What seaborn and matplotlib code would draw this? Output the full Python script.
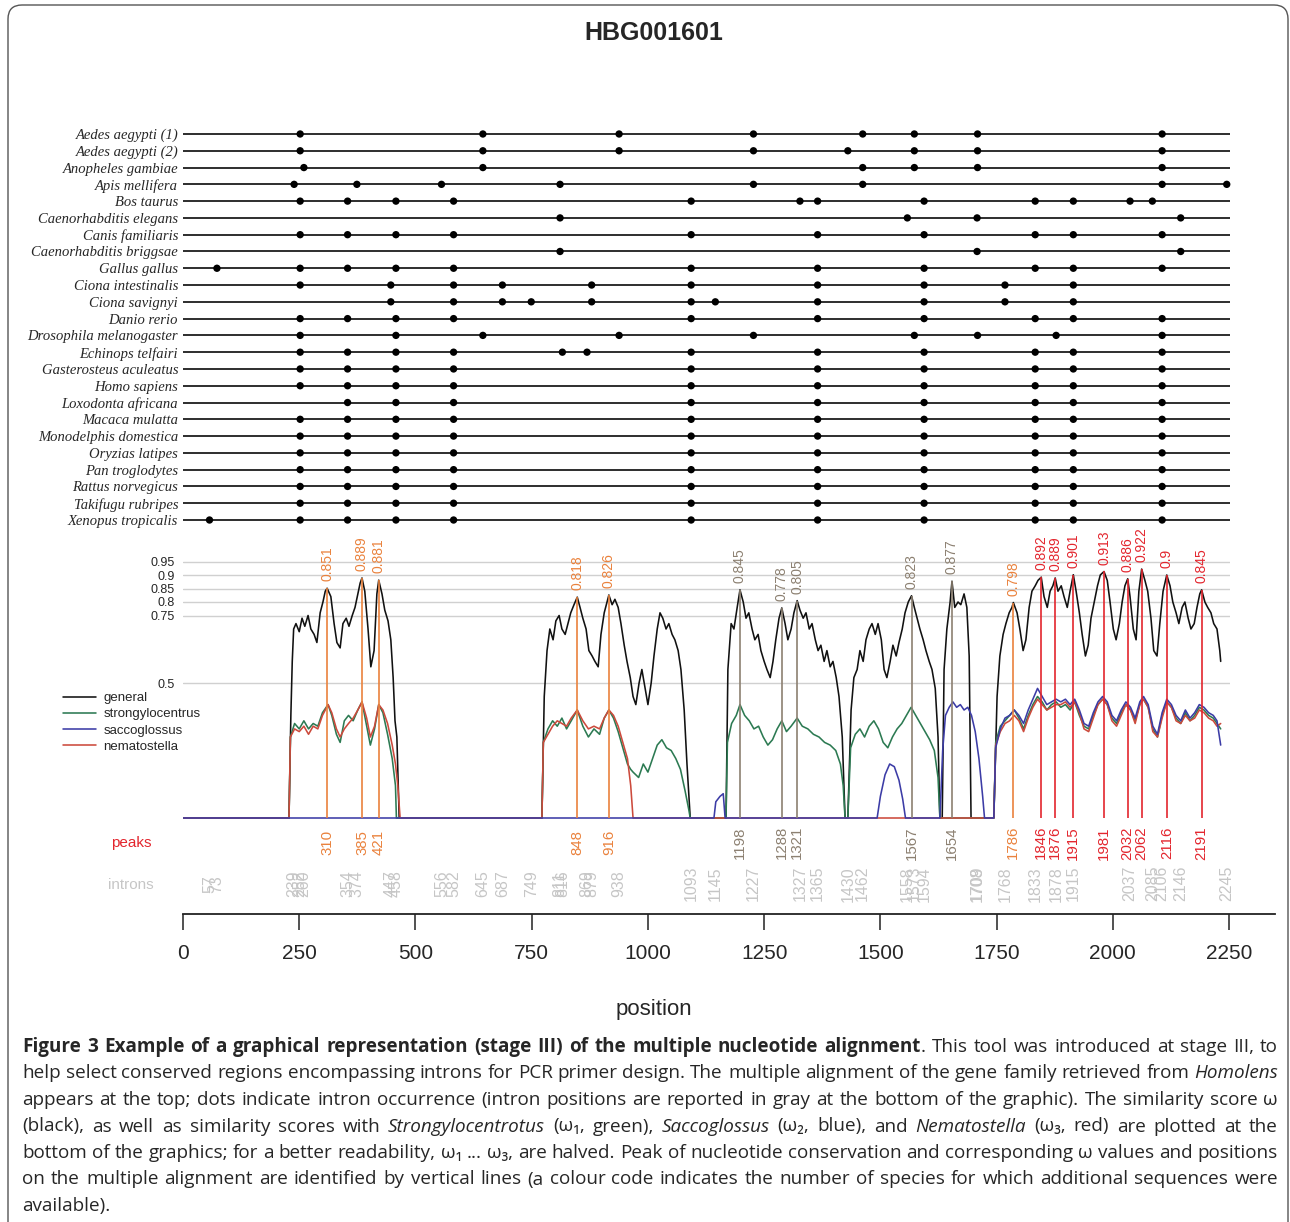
import numpy as np
import pandas as pd
import seaborn as sns
import matplotlib.pyplot as plt
from matplotlib import font_manager
from matplotlib.patches import FancyBboxPatch
from matplotlib.transforms import IdentityTransform

W, H = 1290, 1222

## alignment panel data
species = ['Aedes aegypti (1)', 'Aedes aegypti (2)', 'Anopheles gambiae', 'Apis mellifera',
           'Bos taurus', 'Caenorhabditis elegans', 'Canis familiaris', 'Caenorhabditis briggsae',
           'Gallus gallus', 'Ciona intestinalis', 'Ciona savignyi', 'Danio rerio',
           'Drosophila melanogaster', 'Echinops telfairi', 'Gasterosteus aculeatus', 'Homo sapiens',
           'Loxodonta africana', 'Macaca mulatta', 'Monodelphis domestica', 'Oryzias latipes',
           'Pan troglodytes', 'Rattus norvegicus', 'Takifugu rubripes', 'Xenopus tropicalis']

# intron sites shared by most vertebrates
vert = [252, 354, 458, 582, 1093, 1365, 1594, 1833, 1915, 2106]
sites = [
    [252, 645, 938, 1227, 1462, 1573, 1709, 2106],
    [252, 645, 938, 1227, 1430, 1573, 1709, 2106],
    [260, 645, 1462, 1573, 1709, 2106],
    [239, 374, 556, 811, 1227, 1462, 2106, 2245],
    [252, 354, 458, 582, 1093, 1327, 1365, 1594, 1833, 1915, 2037, 2085],
    [811, 1558, 1708, 2146],
    vert,
    [811, 1708, 2146],
    [73] + vert,
    [252, 447, 582, 687, 879, 1093, 1365, 1594, 1768, 1915],
    [447, 582, 687, 749, 879, 1093, 1145, 1365, 1594, 1768, 1915],
    vert,
    [252, 458, 645, 938, 1227, 1573, 1709, 1878, 2106],
    [252, 354, 458, 582, 816, 869, 1093, 1365, 1594, 1833, 1915, 2106],
    vert,
    vert,
    vert[1:],
    vert, vert, vert, vert, vert, vert,
    [57] + vert,
]
aln_length = 2252

## similarity curves (omega values along the alignment)
general_pos = [0, 228, 230, 232, 235, 238, 243, 250, 256, 262, 269, 275, 282, 288, 295, 301, 306, 310, 318, 325,
               331, 338, 344, 351, 357, 364, 370, 376, 381, 385, 391, 398, 404, 411, 417, 421, 428, 434, 441, 447,
               452, 456, 460, 465,
               772, 777, 783, 789, 796, 802, 809, 815, 822, 828, 834, 841, 848, 854, 860, 867, 873, 880, 886, 893,
               899, 906, 912, 916, 923, 929, 936, 942, 949, 955, 962, 968, 974, 981, 987, 994, 1000, 1007, 1013, 1020,
               1026, 1032, 1039, 1045, 1052, 1058, 1065, 1071, 1078, 1084, 1091,
               1168, 1172, 1179, 1185, 1192, 1198, 1205, 1211, 1217, 1224, 1230, 1237, 1243, 1250, 1256, 1263, 1269,
               1275, 1282, 1288, 1295, 1301, 1308, 1314, 1321, 1327, 1334, 1340, 1347, 1353, 1360, 1366, 1372, 1379,
               1385, 1392, 1398, 1405, 1411, 1418, 1424,
               1430, 1437, 1443, 1450, 1456, 1463, 1469, 1476, 1482, 1489, 1495, 1502, 1508, 1514, 1521, 1527, 1534,
               1540, 1547, 1553, 1560, 1567, 1573, 1579, 1585, 1592, 1598, 1605, 1611, 1618, 1624, 1628,
               1633, 1637, 1643, 1650, 1654, 1660, 1667, 1673, 1680, 1686, 1691, 1695,
               1744, 1751, 1757, 1764, 1770, 1777, 1783, 1786, 1794, 1800, 1807, 1813, 1820, 1826, 1833, 1839, 1846,
               1852, 1859, 1865, 1871, 1876, 1882, 1889, 1895, 1902, 1908, 1915, 1921, 1928, 1934, 1941, 1947, 1953,
               1960, 1967, 1973, 1981, 1988, 1994, 2001, 2007, 2014, 2020, 2026, 2032, 2037, 2044, 2050, 2056, 2062,
               2069, 2075, 2082, 2088, 2095, 2101, 2108, 2116, 2123, 2129, 2136, 2142, 2149, 2155, 2162, 2168, 2175,
               2181, 2187, 2191, 2198, 2204, 2211, 2217, 2224, 2230, 2232]
general_val = [0, 0, 0.20, 0.38, 0.58, 0.70, 0.72, 0.69, 0.74, 0.71, 0.75, 0.70, 0.68, 0.65, 0.76, 0.80, 0.84, 0.851,
               0.82, 0.72, 0.65, 0.63, 0.72, 0.74, 0.71, 0.75, 0.78, 0.83, 0.87, 0.889, 0.84, 0.70, 0.56, 0.62, 0.83,
               0.881, 0.83, 0.77, 0.73, 0.66, 0.52, 0.36, 0.30, 0,
               0, 0.45, 0.62, 0.70, 0.66, 0.73, 0.75, 0.70, 0.68, 0.72, 0.76, 0.79, 0.818, 0.78, 0.74, 0.70, 0.62,
               0.60, 0.58, 0.56, 0.68, 0.76, 0.80, 0.826, 0.79, 0.81, 0.78, 0.72, 0.64, 0.58, 0.52, 0.45, 0.42, 0.50,
               0.55, 0.48, 0.42, 0.50, 0.60, 0.70, 0.76, 0.74, 0.70, 0.72, 0.68, 0.66, 0.62, 0.55, 0.40, 0.20, 0,
               0, 0.55, 0.72, 0.70, 0.78, 0.845, 0.80, 0.74, 0.76, 0.70, 0.66, 0.68, 0.62, 0.58, 0.55, 0.52, 0.58,
               0.66, 0.74, 0.778, 0.72, 0.66, 0.70, 0.76, 0.805, 0.77, 0.74, 0.76, 0.70, 0.72, 0.66, 0.62, 0.64, 0.58,
               0.62, 0.56, 0.58, 0.52, 0.45, 0.30, 0,
               0, 0.40, 0.52, 0.55, 0.62, 0.58, 0.66, 0.70, 0.72, 0.68, 0.72, 0.66, 0.55, 0.52, 0.58, 0.64, 0.60,
               0.65, 0.70, 0.76, 0.80, 0.823, 0.78, 0.74, 0.70, 0.66, 0.62, 0.58, 0.55, 0.48, 0.30, 0,
               0, 0.55, 0.70, 0.80, 0.877, 0.78, 0.80, 0.79, 0.83, 0.78, 0.60, 0,
               0, 0.45, 0.60, 0.68, 0.72, 0.76, 0.78, 0.798, 0.76, 0.70, 0.62, 0.66, 0.78, 0.84, 0.86, 0.88, 0.892,
               0.82, 0.78, 0.84, 0.86, 0.889, 0.84, 0.86, 0.82, 0.78, 0.84, 0.901, 0.84, 0.76, 0.68, 0.60, 0.64, 0.74,
               0.80, 0.86, 0.90, 0.913, 0.88, 0.80, 0.70, 0.66, 0.72, 0.80, 0.86, 0.886, 0.82, 0.70, 0.66, 0.84,
               0.922, 0.88, 0.84, 0.74, 0.62, 0.60, 0.72, 0.84, 0.90, 0.86, 0.80, 0.76, 0.72, 0.78, 0.80, 0.74, 0.70,
               0.72, 0.78, 0.83, 0.845, 0.80, 0.78, 0.76, 0.72, 0.70, 0.62, 0.58]

# last block, where all three additional species are aligned
tail_pos = [1744, 1748, 1758, 1768, 1778, 1788, 1798, 1808, 1818, 1828, 1838, 1848, 1858, 1868, 1878, 1888, 1898,
            1908, 1918, 1928, 1938, 1948, 1958, 1968, 1978, 1988, 1998, 2008, 2018, 2028, 2038, 2048, 2058, 2066,
            2076, 2086, 2096, 2106, 2116, 2126, 2136, 2146, 2156, 2166, 2176, 2186, 2196, 2206, 2216, 2224, 2232]
strongylo_tail = [0, 0.28, 0.34, 0.36, 0.38, 0.40, 0.37, 0.33, 0.38, 0.42, 0.45, 0.43, 0.40, 0.42, 0.43, 0.41, 0.42,
                  0.40, 0.43, 0.38, 0.34, 0.33, 0.38, 0.42, 0.44, 0.42, 0.37, 0.35, 0.39, 0.42, 0.40, 0.36, 0.42,
                  0.44, 0.41, 0.33, 0.30, 0.38, 0.43, 0.41, 0.37, 0.35, 0.39, 0.36, 0.38, 0.41, 0.40, 0.38, 0.37,
                  0.35, 0.33]
sacco_tail = [0, 0.26, 0.33, 0.37, 0.38, 0.40, 0.38, 0.35, 0.40, 0.44, 0.48, 0.45, 0.42, 0.43, 0.44, 0.43, 0.44,
              0.42, 0.44, 0.40, 0.35, 0.34, 0.39, 0.43, 0.45, 0.43, 0.38, 0.36, 0.40, 0.43, 0.41, 0.37, 0.43, 0.45,
              0.42, 0.34, 0.31, 0.39, 0.44, 0.42, 0.38, 0.36, 0.40, 0.37, 0.39, 0.42, 0.41, 0.39, 0.38, 0.36, 0.27]
nemato_tail = [0, 0.27, 0.32, 0.35, 0.36, 0.38, 0.36, 0.32, 0.37, 0.41, 0.44, 0.42, 0.40, 0.41, 0.42, 0.42, 0.43,
               0.41, 0.43, 0.39, 0.33, 0.32, 0.37, 0.42, 0.44, 0.42, 0.36, 0.34, 0.38, 0.42, 0.40, 0.35, 0.42, 0.44,
               0.41, 0.32, 0.30, 0.37, 0.43, 0.41, 0.36, 0.35, 0.38, 0.36, 0.37, 0.40, 0.39, 0.37, 0.36, 0.34, 0.35]

strongylo_pos = [0, 228, 231, 240, 250, 260, 270, 280, 290, 300, 312, 320, 330, 338, 347, 356, 366, 376, 385, 395,
                 403, 412, 421, 430, 440, 450, 457, 459,
                 772, 775, 785, 795, 805, 815, 825, 835, 848, 860, 872, 884, 896, 906, 916, 926, 936, 946, 956, 963,
                 968, 980, 990, 1000, 1010, 1020, 1030, 1040, 1050, 1060, 1070, 1080, 1088, 1091,
                 1168, 1171, 1180, 1190, 1198, 1208, 1218, 1228, 1238, 1248, 1258, 1268, 1278, 1288, 1298, 1308,
                 1321, 1332, 1344, 1356, 1368, 1380, 1392, 1404, 1414, 1420, 1424,
                 1430, 1436, 1446, 1456, 1466, 1476, 1486, 1496, 1506, 1516, 1526, 1536, 1546, 1556, 1566, 1576,
                 1586, 1596, 1606, 1616, 1624, 1628] + tail_pos
strongylo_val = [0, 0, 0.30, 0.35, 0.33, 0.36, 0.33, 0.35, 0.34, 0.39, 0.42, 0.38, 0.31, 0.28, 0.36, 0.38, 0.36,
                 0.40, 0.43, 0.34, 0.27, 0.33, 0.42, 0.39, 0.31, 0.22, 0.12, 0,
                 0, 0.28, 0.33, 0.36, 0.34, 0.37, 0.33, 0.36, 0.40, 0.34, 0.30, 0.33, 0.31, 0.37, 0.40, 0.37, 0.32,
                 0.26, 0.20, 0.18, 0.17, 0.15, 0.20, 0.17, 0.22, 0.27, 0.29, 0.26, 0.25, 0.22, 0.18, 0.10, 0.03, 0,
                 0, 0.28, 0.35, 0.38, 0.42, 0.38, 0.36, 0.33, 0.34, 0.30, 0.27, 0.29, 0.33, 0.36, 0.32, 0.34, 0.37,
                 0.34, 0.33, 0.31, 0.30, 0.28, 0.27, 0.25, 0.20, 0.12, 0,
                 0, 0.26, 0.31, 0.33, 0.30, 0.34, 0.36, 0.33, 0.28, 0.26, 0.30, 0.33, 0.35, 0.38, 0.41, 0.38, 0.35,
                 0.32, 0.29, 0.25, 0.15, 0] + strongylo_tail

sacco_pos = [0, 1142, 1146, 1155, 1162, 1166,
             1493, 1500, 1510, 1520, 1530, 1540, 1548, 1554,
             1628, 1634, 1640, 1648, 1656, 1664, 1672, 1680, 1688, 1696, 1704, 1712, 1720, 1724] + tail_pos
sacco_val = [0, 0, 0.06, 0.08, 0.09, 0,
             0, 0.08, 0.16, 0.20, 0.19, 0.14, 0.07, 0,
             0, 0.25, 0.38, 0.41, 0.43, 0.41, 0.42, 0.40, 0.41, 0.38, 0.32, 0.22, 0.08, 0] + sacco_tail

nemato_pos = [0, 228, 231, 240, 250, 260, 270, 280, 290, 300, 312, 320, 330, 338, 347, 356, 366, 376, 385, 395,
              403, 412, 421, 430, 440, 450, 457, 462, 467,
              772, 775, 785, 795, 805, 815, 825, 835, 848, 860, 872, 884, 896, 906, 916, 926, 936, 946, 956, 963,
              968] + tail_pos
nemato_val = [0, 0, 0.30, 0.33, 0.32, 0.34, 0.31, 0.34, 0.33, 0.38, 0.42, 0.39, 0.33, 0.30, 0.33, 0.35, 0.37,
              0.40, 0.43, 0.37, 0.30, 0.34, 0.42, 0.40, 0.35, 0.27, 0.20, 0.12, 0,
              0, 0.28, 0.31, 0.34, 0.36, 0.35, 0.34, 0.37, 0.40, 0.36, 0.33, 0.34, 0.33, 0.37, 0.40, 0.38, 0.34,
              0.28, 0.22, 0.12, 0] + nemato_tail

## conservation peaks (position, omega, number of extra species aligned)
peak_pos = [310, 385, 421, 848, 916, 1198, 1288, 1321, 1567, 1654, 1786, 1846, 1876, 1915, 1981, 2032, 2062,
            2116, 2191]
peak_val = [0.851, 0.889, 0.881, 0.818, 0.826, 0.845, 0.778, 0.805, 0.823, 0.877, 0.798, 0.892, 0.889, 0.901,
            0.913, 0.886, 0.922, 0.9, 0.845]
peak_nsp = [2, 2, 2, 2, 2, 1, 1, 1, 1, 1, 2, 3, 3, 3, 3, 3, 3, 3, 3]
grid_levels = [0.5, 0.75, 0.8, 0.85, 0.9, 0.95]
pos_ticks = [0, 250, 500, 750, 1000, 1250, 1500, 1750, 2000, 2250]

caption_lines = [
    "#Figure 3 Example of a graphical representation (stage III) of the multiple nucleotide alignment#. This tool was introduced at stage III, to",
    "help select conserved regions encompassing introns for PCR primer design. The multiple alignment of the gene family retrieved from _Homolens_",
    "appears at the top; dots indicate intron occurrence (intron positions are reported in gray at the bottom of the graphic). The similarity score ω",
    "(black), as well as similarity scores with _Strongylocentrotus_ (ω₁, green), _Saccoglossus_ (ω₂, blue), and _Nematostella_ (ω₃, red) are plotted at the",
    "bottom of the graphics; for a better readability, ω₁ ... ω₃, are halved. Peak of nucleotide conservation and corresponding ω values and positions",
    "on the multiple alignment are identified by vertical lines (a colour code indicates the number of species for which additional sequences were",
    "available).",
]

nsp_colors = {1: '#8C8071', 2: '#EA823D', 3: '#E3262E'}
curve_colors = {'general': '#111111', 'strongylocentrus': '#2C7A52',
                'saccoglossus': '#3C3CA6', 'nematostella': '#CC4A3C'}
intron_gray = '#C6C6C6'


def pick(*names):
    avail = {f.name for f in font_manager.fontManager.ttflist}
    for n in names:
        if n in avail:
            return n
    return 'DejaVu Sans'


if __name__ == '__main__':
    sns.set_theme(style='white')
    plt.rcParams['font.family'] = ['Liberation Sans', 'DejaVu Sans']
    narrow = pick('Liberation Sans Narrow', 'Liberation Sans')
    cap_family = [pick('Open Sans', 'Noto Sans'), 'DejaVu Sans']

    fig = plt.figure(figsize=(W / 100, H / 100), dpi=100)

    def box(left, top, right, bottom):
        # pixel box -> figure fraction rect
        return [left / W, 1 - bottom / H, (right - left) / W, (bottom - top) / H]

    ax_top = fig.add_axes(box(183, 125.6, 1230, 528.4))
    ax_mid = fig.add_axes(box(183, 530, 1230, 822))
    ax_bot = fig.add_axes(box(183, 825, 1275, 914))
    for ax in (ax_top, ax_mid, ax_bot):
        ax.patch.set_alpha(0)

    # alignment rows with intron dots
    dots = pd.DataFrame([(i, p) for i, s in enumerate(sites) for p in s], columns=['row', 'pos'])
    ax_top.hlines(range(len(species)), 0, aln_length, color='#1c1c1c', lw=1.3)
    sns.scatterplot(data=dots, x='pos', y='row', color='black', s=28, edgecolor='none',
                    ax=ax_top, clip_on=False, zorder=3)
    ax_top.set_xlim(0, aln_length)
    ax_top.set_ylim(len(species) - 0.5, -0.5)
    ax_top.set_yticks(range(len(species)))
    ax_top.set_yticklabels(species, fontfamily='Liberation Serif', style='italic', fontsize=10.5)
    ax_top.tick_params(axis='y', length=0, pad=3.5)
    ax_top.set_xticks([])
    ax_top.set_xlabel('')
    ax_top.set_ylabel('')
    sns.despine(ax=ax_top, left=True, bottom=True)

    # similarity curves
    curves = {'general': (general_pos, general_val),
              'strongylocentrus': (strongylo_pos, strongylo_val),
              'nematostella': (nemato_pos, nemato_val),
              'saccoglossus': (sacco_pos, sacco_val)}
    for name, (xs, ys) in curves.items():
        sns.lineplot(x=xs, y=ys, color=curve_colors[name], lw=1.15, label=name,
                     estimator=None, sort=False, ax=ax_mid)
    ax_mid.set_xlim(0, aln_length)
    ax_mid.set_ylim((818 - 822) / 270, (818 - 530) / 270)
    ax_mid.set_yticks(grid_levels)
    ax_mid.set_yticklabels([f'{v:g}' for v in grid_levels], fontsize=9)
    ax_mid.set_xticks([])
    ax_mid.grid(axis='y', color='#D0D0D0', lw=1)
    ax_mid.set_axisbelow(True)
    ax_mid.tick_params(axis='y', length=0, pad=6)
    sns.despine(ax=ax_mid, left=True, bottom=True)

    handles, labels = ax_mid.get_legend_handles_labels()
    hmap = dict(zip(labels, handles))
    order = ['general', 'strongylocentrus', 'saccoglossus', 'nematostella']
    ax_mid.legend([hmap[k] for k in order], order, loc='upper left',
                  bbox_to_anchor=(63 / W, 1 - 692 / H), bbox_transform=fig.transFigure,
                  frameon=False, fontsize=9.5, handlelength=2.5, handletextpad=0.55,
                  labelspacing=0.3, borderaxespad=0, borderpad=0)

    # peaks: vertical line, omega value on top, position below
    xt = ax_bot.get_xaxis_transform()
    for p, v, n in zip(peak_pos, peak_val, peak_nsp):
        c = nsp_colors[n]
        ax_mid.vlines(p, 0, v, color=c, lw=1.2, zorder=5)
        ax_mid.annotate(f'{v:g}', (p, v), xytext=(0, 5), textcoords='offset points', rotation=90,
                        ha='center', va='bottom', color=c, fontsize=10)
        ax_bot.text(p, 0.80, str(p), transform=xt, rotation=90, ha='center', va='center',
                    color=c, fontsize=10.8)

    introns = sorted(set(p for s in sites for p in s))
    for p in introns:
        ax_bot.text(p, 0.34, str(p), transform=xt, rotation=90, ha='center', va='center',
                    color=intron_gray, fontsize=11.5)

    fig.text(131 / W, 1 - 843 / H, 'peaks', color=nsp_colors[3], fontsize=11, ha='center', va='center')
    fig.text(131 / W, 1 - 885 / H, 'introns', color=intron_gray, fontsize=11, ha='center', va='center')

    # bottom position axis
    ax_bot.set_xlim(0, aln_length * (1275 - 183) / (1230 - 183))
    ax_bot.set_ylim(0, 1)
    ax_bot.set_yticks([])
    ax_bot.set_xticks(pos_ticks)
    ax_bot.set_xticklabels([str(t) for t in pos_ticks], fontfamily=narrow, fontsize=15)
    ax_bot.tick_params(axis='x', bottom=True, direction='out', length=11.5, width=1.1,
                       color='#222222', pad=10)
    sns.despine(ax=ax_bot, left=True)
    ax_bot.spines['bottom'].set_color('#222222')
    ax_bot.spines['bottom'].set_linewidth(1.3)

    fig.text(654 / W, 1 - 1010 / H, 'position', fontsize=16, ha='center', va='center')
    fig.text(654 / W, 1 - 33 / H, 'HBG001601', fontsize=18, fontweight='bold', ha='center', va='center')

    # frame around the figure
    fig.add_artist(FancyBboxPatch((8, -60), 1280, H - 5 + 60, boxstyle='round,pad=0,rounding_size=14',
                                  transform=IdentityTransform(), fill=False, ec='#555555', lw=1.0))

    # caption, justified word by word
    renderer = fig.canvas.get_renderer()
    cap_size = 13.6

    def parse_words(line):
        words, cur, buf = [], [], ''
        bold = ital = False
        for ch in line:
            if ch in '#_ ':
                if buf:
                    cur.append((buf, bold, ital))
                    buf = ''
                if ch == '#':
                    bold = not bold
                elif ch == '_':
                    ital = not ital
                elif cur:
                    words.append(cur)
                    cur = []
            else:
                buf += ch
        if buf:
            cur.append((buf, bold, ital))
        if cur:
            words.append(cur)
        return words

    def put(txt, b, it, y):
        return fig.text(0, y, txt, fontsize=cap_size, family=cap_family,
                        weight='bold' if b else 'normal', style='italic' if it else 'normal',
                        va='baseline', ha='left')

    left_px, right_px = 22, 1278
    probe_a = put('a a', False, False, 0)
    probe_b = put('aa', False, False, 0)
    space_w = probe_a.get_window_extent(renderer).width - probe_b.get_window_extent(renderer).width
    probe_a.remove()
    probe_b.remove()

    for k, line in enumerate(caption_lines):
        y = 1 - (1052 + 26.5 * k) / H
        words = parse_words(line)
        placed, widths = [], []
        for w in words:
            off, arts = 0, []
            for txt, b, it in w:
                t = put(txt, b, it, y)
                arts.append((t, off))
                off += t.get_window_extent(renderer).width
            placed.append(arts)
            widths.append(off)
        if k < len(caption_lines) - 1 and len(words) > 1:
            gap = (right_px - left_px - sum(widths)) / (len(words) - 1)
            gap = max(gap, 0.6 * space_w)
        else:
            gap = space_w
        x = left_px
        for arts, ww in zip(placed, widths):
            for t, off in arts:
                t.set_x((x + off) / W)
            x += ww + gap

    fig.savefig('out.png', dpi=100)
